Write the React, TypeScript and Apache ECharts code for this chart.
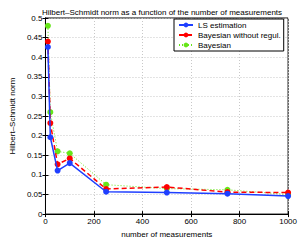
import React, { useEffect, useRef } from "react";
import * as echarts from "echarts";

const measurements = [10, 20, 50, 100, 250, 500, 750, 1000];
const lsEstimation = [0.426, 0.196, 0.111, 0.13, 0.057, 0.055, 0.052, 0.046];
const bayesNoRegul = [0.44, 0.232, 0.127, 0.142, 0.064, 0.069, 0.056, 0.055];
const bayesian = [0.48, 0.26, 0.16, 0.155, 0.075, 0.065, 0.062, 0.05];

const FONT = "Liberation Sans";

export default function App() {
  const ref = useRef<HTMLDivElement>(null);
  useEffect(() => {
    if (!ref.current) return;
    const chart = echarts.init(ref.current, undefined, { renderer: "svg" });
    const mk = (vals: number[]) => measurements.map((m, i) => [m, vals[i]]);
    const tickStyle = { show: true, inside: true, length: 3, lineStyle: { color: "#000" } };
    chart.setOption({
      animation: false,
      backgroundColor: "#fff",
      textStyle: { fontFamily: FONT },
      title: {
        text: "Hilbert\u2013Schmidt norm as a function of the number of measurements",
        left: 157,
        textAlign: "center",
        top: 3,
        textStyle: { fontSize: 8, fontWeight: "normal", color: "#000", fontFamily: FONT },
      },
      grid: { left: 27, right: 11, top: 18, bottom: 21, show: true, borderColor: "#000", borderWidth: 1 },
      legend: {
        left: 174,
        top: 19,
        orient: "vertical",
        align: "left",
        itemWidth: 14,
        itemHeight: 6,
        itemGap: 0,
        padding: [1, 3, 1, 4],
        backgroundColor: "#fff",
        borderColor: "#000",
        borderWidth: 1,
        textStyle: { fontSize: 8, color: "#000", fontFamily: FONT, lineHeight: 10 },
        data: ["LS estimation", "Bayesian without regul.", "Bayesian"],
      },
      xAxis: [
        {
          type: "value",
          min: 0,
          max: 1000,
          interval: 200,
          name: "number of measurements",
          nameLocation: "middle",
          nameGap: 12,
          nameTextStyle: { fontSize: 8, color: "#000" },
          axisLine: { show: true, lineStyle: { color: "#000" } },
          axisTick: tickStyle,
          axisLabel: { fontSize: 8, color: "#000", margin: 3, formatter: (v: number) => String(v) },
          splitLine: { show: true, lineStyle: { color: "#c8c8c8", type: [1, 2], width: 1 } },
        },
        {
          type: "value",
          position: "top",
          min: 0,
          max: 1000,
          interval: 200,
          axisLine: { show: true, lineStyle: { color: "#000" } },
          axisTick: tickStyle,
          axisLabel: { show: false },
          splitLine: { show: false },
        },
      ],
      yAxis: [
        {
          type: "value",
          min: 0,
          max: 0.5,
          interval: 0.05,
          name: "Hilbert\u2013Schmidt norm",
          nameLocation: "middle",
          nameGap: 16,
          nameTextStyle: { fontSize: 8, color: "#000" },
          axisLine: { show: true, lineStyle: { color: "#000" } },
          axisTick: tickStyle,
          axisLabel: {
            fontSize: 8,
            color: "#000",
            margin: 3,
            formatter: (v: number) => String(Math.round(v * 100) / 100),
          },
          splitLine: { show: true, lineStyle: { color: "#c8c8c8", type: [1, 2], width: 1 } },
        },
        {
          type: "value",
          position: "right",
          min: 0,
          max: 0.5,
          interval: 0.05,
          axisLine: { show: true, lineStyle: { color: "#000" } },
          axisTick: tickStyle,
          axisLabel: { show: false },
          splitLine: { show: false },
        },
      ],
      series: [
        {
          name: "Bayesian",
          type: "line",
          data: mk(bayesian),
          symbol: "circle",
          symbolSize: 6,
          itemStyle: { color: "#66e619" },
          lineStyle: { color: "#66e619", width: 1, type: [1, 2] },
          z: 2,
        },
        {
          name: "Bayesian without regul.",
          type: "line",
          data: mk(bayesNoRegul),
          symbol: "circle",
          symbolSize: 6,
          itemStyle: { color: "#ff0000" },
          lineStyle: { color: "#ff0000", width: 1.5, type: [5, 3] },
          z: 3,
        },
        {
          name: "LS estimation",
          type: "line",
          data: mk(lsEstimation),
          symbol: "circle",
          symbolSize: 6,
          itemStyle: { color: "#1f3fff" },
          lineStyle: { color: "#1f3fff", width: 1.5 },
          z: 4,
        },
      ],
    });
    return () => chart.dispose();
  }, []);
  return <div ref={ref} style={{ width: 300, height: 243, position: "absolute", left: 0, top: 0 }} />;
}
